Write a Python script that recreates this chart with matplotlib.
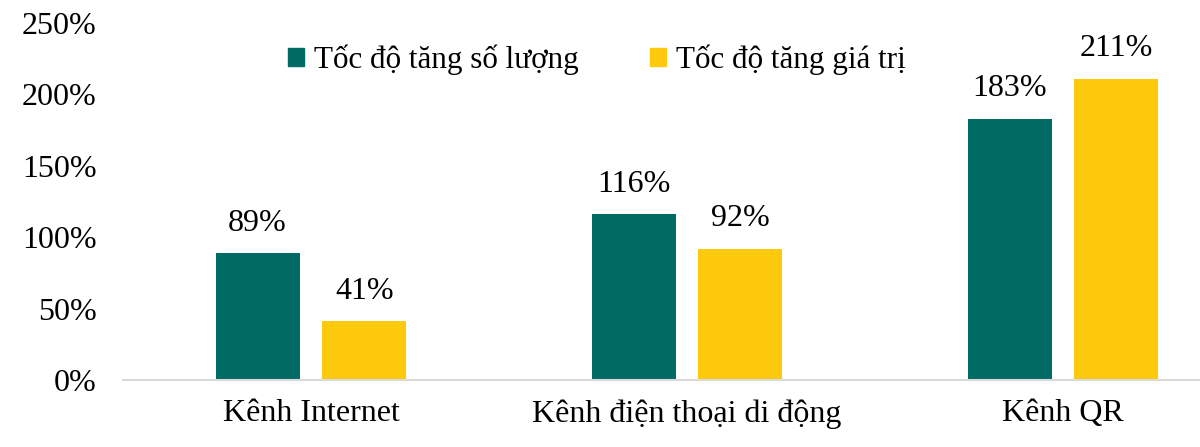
import matplotlib
matplotlib.use("Agg")
import matplotlib.pyplot as plt
import numpy as np
from matplotlib.patches import Patch

categories = ["Kênh Internet", "Kênh điện thoại di động", "Kênh QR"]
series_names = ["Tốc độ tăng số lượng", "Tốc độ tăng giá trị"]
volume_growth = [89, 116, 183]
value_growth = [41, 92, 211]
yticks = [0, 50, 100, 150, 200, 250]
ytick_labels = ["0%", "50%", "100%", "150%", "200%", "250%"]

teal = "#006B63"
yellow = "#FFC90E"
fs = 23

plt.rcParams['font.family'] = ['Liberation Serif', 'DejaVu Serif']

fig = plt.figure(figsize=(12, 4.47), dpi=100)
ax = fig.add_axes([123/1200, (447-380)/447, (1200-123)/1200, (380-23)/447])

x = np.arange(len(categories))
w = 0.223
off = 0.142
b1 = ax.bar(x - off, volume_growth, w, color=teal)
b2 = ax.bar(x + off, value_growth, w, color=yellow)

for bars, vals in ((b1, volume_growth), (b2, value_growth)):
    for r, v in zip(bars, vals):
        ax.annotate(f"{v}%", (r.get_x() + r.get_width()/2, v),
                    xytext=(0, 11), textcoords="offset points",
                    ha="center", va="bottom", fontsize=fs)

ax.set_xlim(-0.5, -0.5 + 1077/376)
ax.set_ylim(0, 250)
ax.set_yticks(yticks)
ax.set_yticklabels(ytick_labels)
ax.set_xticks(x)
ax.set_xticklabels(categories)
ax.tick_params(axis='y', length=0, pad=19, labelsize=fs)
ax.tick_params(axis='x', length=0, pad=14, labelsize=fs)
for s in ['top', 'right', 'left']:
    ax.spines[s].set_visible(False)
ax.spines['bottom'].set_color('#D9D9D9')
ax.spines['bottom'].set_linewidth(1.5)

handles = [Patch(color=teal), Patch(color=yellow)]
leg = ax.legend(handles, series_names, loc='center', bbox_to_anchor=(597/1200, 1 - 60/447),
                bbox_transform=fig.transFigure, ncol=2, frameon=False, fontsize=22.4,
                handlelength=0.5, handleheight=0.5, handletextpad=0.32, columnspacing=2.3)

fig.savefig("out.png", dpi=100)
